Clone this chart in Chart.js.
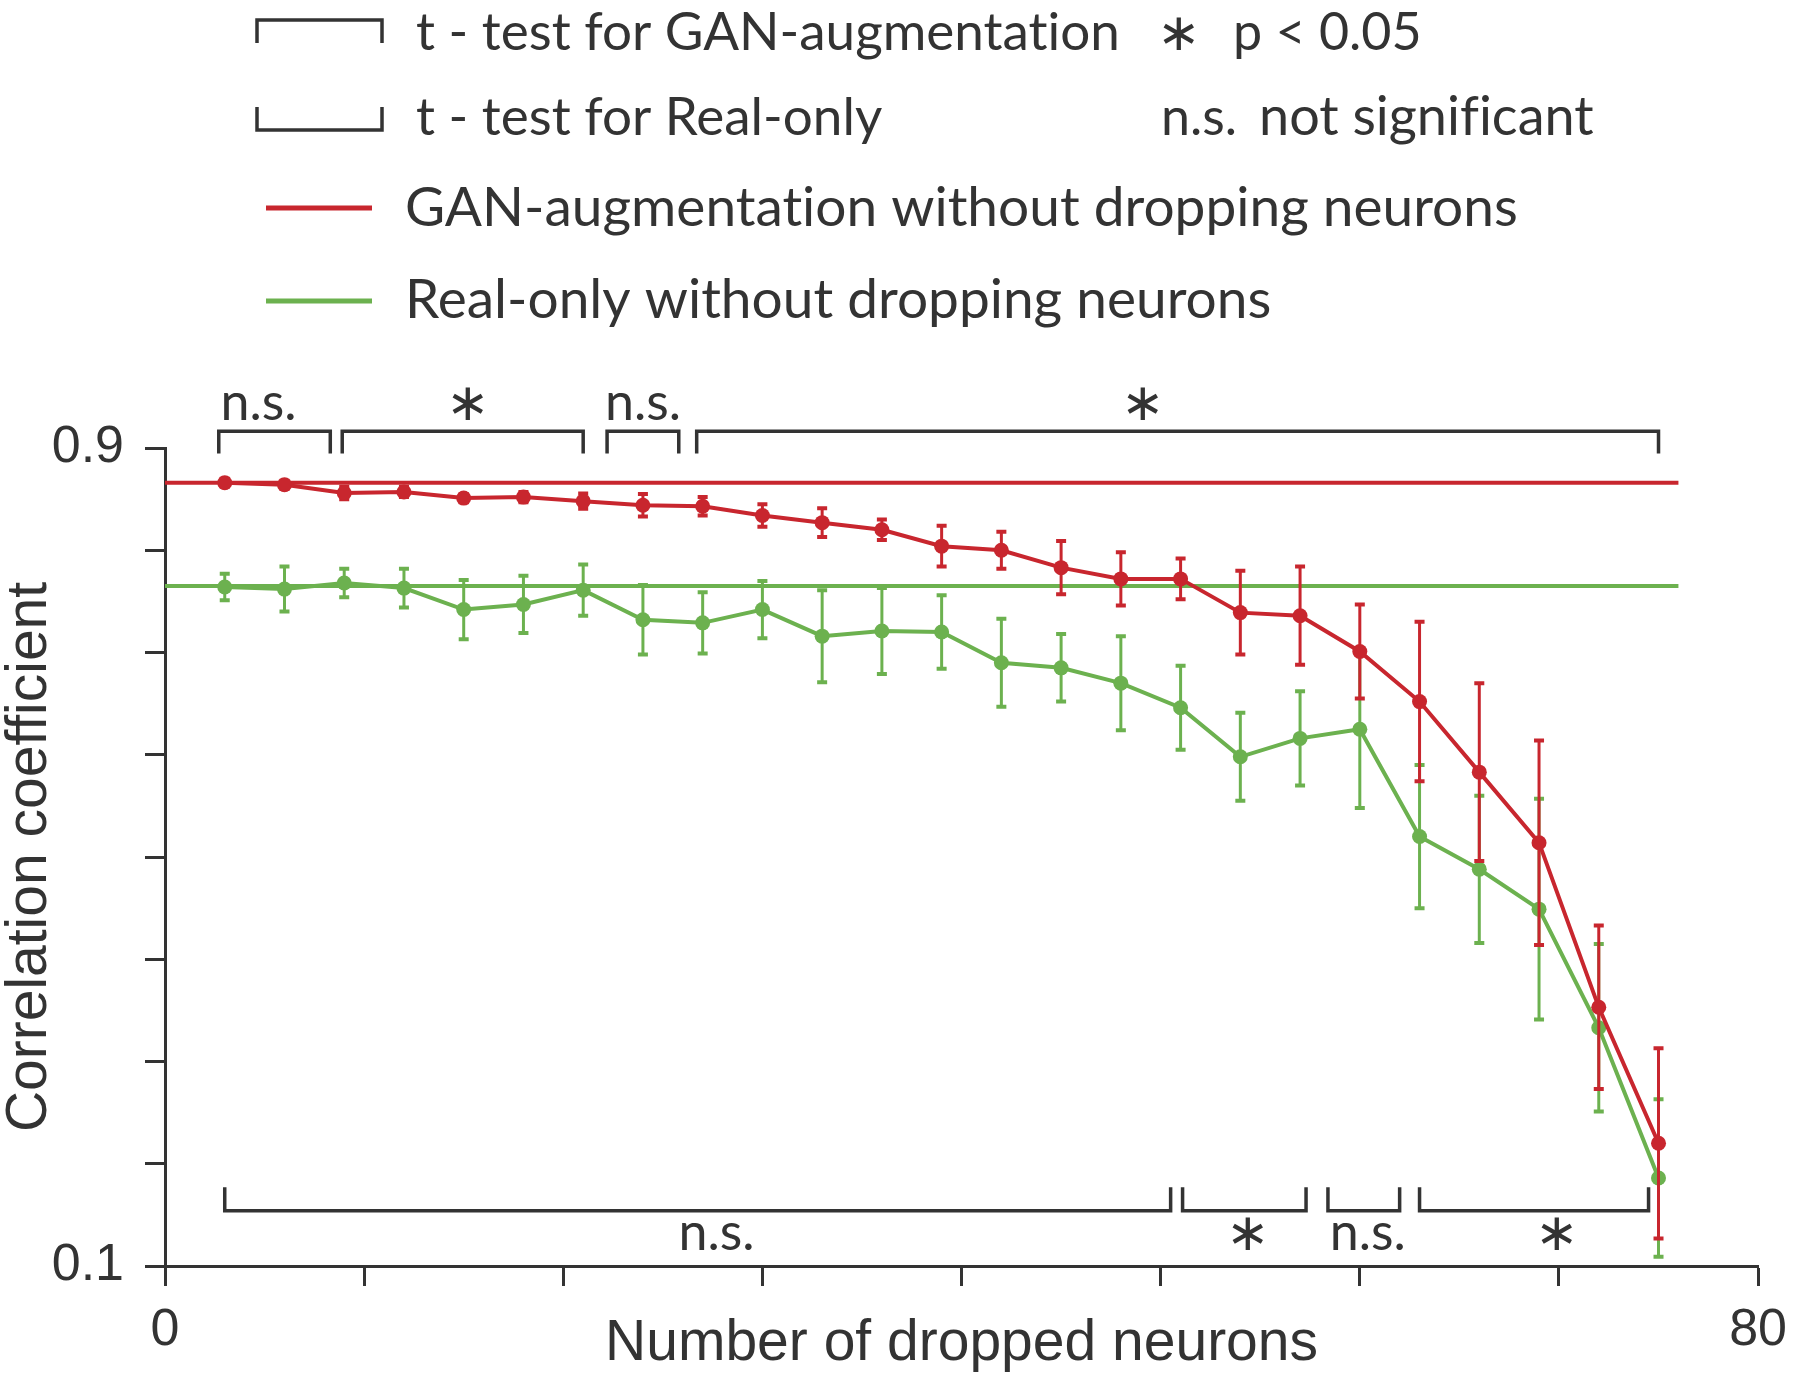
<!DOCTYPE html>
<html>
<head>
<meta charset="utf-8">
<script src="https://cdn.jsdelivr.net/npm/chart.js@4.4.0/dist/chart.umd.min.js"></script>
<style>
  html, body { margin: 0; padding: 0; background: #fff; }
  canvas { display: block; }
</style>
</head>
<body>
<canvas id="chart" width="1800" height="1378"></canvas>
<script>
// --- values ---
const dropped = [3, 6, 9, 12, 15, 18, 21, 24, 27, 30, 33, 36, 39, 42, 45, 48, 51, 54, 57, 60, 63, 66, 69, 72, 75];
const ganMean = [0.866, 0.864, 0.856, 0.857, 0.851, 0.852, 0.848, 0.844, 0.843, 0.834, 0.827, 0.820, 0.804,
                 0.800, 0.783, 0.772, 0.772, 0.739, 0.736, 0.701, 0.652, 0.583, 0.514, 0.353, 0.220];
const ganErr = [0.004, 0.004, 0.006, 0.005, 0.004, 0.005, 0.0075, 0.011, 0.009, 0.011, 0.014, 0.010, 0.020,
                0.018, 0.026, 0.026, 0.020, 0.041, 0.048, 0.046, 0.078, 0.087, 0.100, 0.080, 0.093];
const realMean = [0.764, 0.762, 0.768, 0.763, 0.742, 0.747, 0.761, 0.732, 0.729, 0.742, 0.716, 0.721, 0.720,
                  0.690, 0.685, 0.670, 0.646, 0.598, 0.616, 0.625, 0.520, 0.488, 0.449, 0.333, 0.186];
const realErr = [0.013, 0.022, 0.014, 0.019, 0.029, 0.028, 0.025, 0.034, 0.030, 0.028, 0.045, 0.042, 0.036,
                 0.043, 0.033, 0.046, 0.041, 0.043, 0.046, 0.077, 0.070, 0.072, 0.108, 0.082, 0.077];

// "without dropping neurons" reference levels
const ganBaseline = 0.866;
const realBaseline = 0.765;
const baselineRange = [0, 76];

// t-test brackets (in neurons) and their marks
const ganTestStart = [2.7, 8.9, 22.2, 26.7];
const ganTestEnd = [8.3, 21.0, 25.8, 75.0];
const ganTestMark = ['n.s.', '∗', 'n.s.', '∗'];
const ganTestMarkX = [4.7, 15.2, 24.0, 49.1];
const realTestStart = [3.0, 51.1, 58.4, 63.0];
const realTestEnd = [50.5, 57.3, 62.0, 74.5];
const realTestMark = ['n.s.', '∗', 'n.s.', '∗'];
const realTestMarkX = [27.7, 54.4, 60.4, 69.9];

const xLabelled = [0, 80];
const yLabelled = [0.1, 0.9];

const red = '#c8262e';
const green = '#6cb14f';
const ink = '#333333';
const textFont = 'Lato, "Open Sans", sans-serif';
const axisFont = '"Liberation Sans", Arial, sans-serif';
const noLig = '\u200C'; // keeps Lato from joining "ti"

// --- error bars, drawn under each series ---
const errorBars = {
  id: 'errorBars',
  beforeDatasetDraw(chart, args) {
    const ds = chart.data.datasets[args.index];
    if (!ds.errors) return;
    const { ctx, scales: { x, y } } = chart;
    ctx.save();
    ctx.strokeStyle = ds.borderColor;
    ds.data.forEach((p, i) => {
      const px = x.getPixelForValue(p.x);
      const top = y.getPixelForValue(p.y + ds.errors[i]);
      const bot = y.getPixelForValue(p.y - ds.errors[i]);
      ctx.lineWidth = 3;
      ctx.beginPath();
      ctx.moveTo(px, top);
      ctx.lineTo(px, bot);
      ctx.stroke();
      ctx.lineWidth = 4;
      ctx.beginPath();
      ctx.moveTo(px - 5, top); ctx.lineTo(px + 5, top);
      ctx.moveTo(px - 5, bot); ctx.lineTo(px + 5, bot);
      ctx.stroke();
    });
    ctx.restore();
  }
};

function bracket(ctx, x0, x1, yLine, yEnd) {
  ctx.beginPath();
  ctx.moveTo(x0, yEnd);
  ctx.lineTo(x0, yLine);
  ctx.lineTo(x1, yLine);
  ctx.lineTo(x1, yEnd);
  ctx.stroke();
}

// --- brackets, legend and axis titles ---
const annotations = {
  id: 'annotations',
  afterDraw(chart) {
    const { ctx, chartArea, scales: { x, y } } = chart;
    ctx.save();
    ctx.strokeStyle = ink;
    ctx.fillStyle = ink;
    ctx.lineWidth = 3.5;

    // t-test brackets above (GAN) and below (Real-only)
    ctx.font = '52px ' + textFont;
    ctx.textAlign = 'center';
    ctx.textBaseline = 'alphabetic';
    ganTestStart.forEach((s, i) => {
      bracket(ctx, x.getPixelForValue(s), x.getPixelForValue(ganTestEnd[i]),
              y.getPixelForValue(0.9165), y.getPixelForValue(0.8945));
      ctx.fillText(ganTestMark[i], x.getPixelForValue(ganTestMarkX[i]), y.getPixelForValue(0.9274));
    });
    realTestStart.forEach((s, i) => {
      bracket(ctx, x.getPixelForValue(s), x.getPixelForValue(realTestEnd[i]),
              y.getPixelForValue(0.154), y.getPixelForValue(0.177));
      ctx.fillText(realTestMark[i], x.getPixelForValue(realTestMarkX[i]), y.getPixelForValue(0.1156));
    });

    // legend
    bracket(ctx, 257, 382, 20, 43);
    bracket(ctx, 257, 382, 130, 107);
    ctx.lineWidth = 5;
    ctx.strokeStyle = red;
    ctx.beginPath(); ctx.moveTo(266, 208); ctx.lineTo(372, 208); ctx.stroke();
    ctx.strokeStyle = green;
    ctx.beginPath(); ctx.moveTo(266, 301); ctx.lineTo(372, 301); ctx.stroke();

    ctx.textAlign = 'left';
    ctx.font = '53px ' + textFont;
    ctx.fillText('t - test for GAN-augmentat' + noLig + 'ion', 416, 50);
    ctx.fillText('t - test for Real-only', 416, 135);
    ctx.font = '55px ' + textFont;
    ctx.fillText('GAN-augmentat' + noLig + 'ion without dropping neurons', 405, 226);
    ctx.fillText('Real-only without dropping neurons', 405, 318);
    ctx.font = '52px ' + textFont;
    ctx.textAlign = 'center';
    ctx.fillText('∗', 1179, 50);
    ctx.textAlign = 'left';
    ctx.fillText('p < 0.05', 1233, 50);
    ctx.fillText('n.s.', 1161, 135);
    ctx.font = '54px ' + textFont;
    ctx.fillText('not signif' + noLig + 'icant', 1259, 135);

    // axis titles
    ctx.font = '57px ' + axisFont;
    ctx.textAlign = 'center';
    ctx.fillText('Number of dropped neurons', (chartArea.left + chartArea.right) / 2, chartArea.bottom + 94);
    ctx.translate(46, (chartArea.top + chartArea.bottom) / 2);
    ctx.rotate(-Math.PI / 2);
    ctx.fillText('Correlation coefficient', 0, 0);
    ctx.restore();
  }
};

const toPoints = (xs, ys) => xs.map((v, i) => ({ x: v, y: ys[i] }));

new Chart(document.getElementById('chart'), {
  type: 'scatter',
  data: {
    datasets: [
      {
        label: 'GAN-augmentation',
        data: toPoints(dropped, ganMean),
        errors: ganErr,
        showLine: true,
        borderColor: red,
        backgroundColor: red,
        borderWidth: 4,
        pointRadius: 7.5,
        pointHoverRadius: 7.5,
        pointBorderWidth: 0,
        clip: false
      },
      {
        label: 'Real-only',
        data: toPoints(dropped, realMean),
        errors: realErr,
        showLine: true,
        borderColor: green,
        backgroundColor: green,
        borderWidth: 4,
        pointRadius: 7.5,
        pointHoverRadius: 7.5,
        pointBorderWidth: 0,
        clip: false
      },
      {
        label: 'GAN-augmentation without dropping neurons',
        data: baselineRange.map(v => ({ x: v, y: ganBaseline })),
        showLine: true,
        borderColor: red,
        borderWidth: 4,
        pointRadius: 0
      },
      {
        label: 'Real-only without dropping neurons',
        data: baselineRange.map(v => ({ x: v, y: realBaseline })),
        showLine: true,
        borderColor: green,
        borderWidth: 4,
        pointRadius: 0
      }
    ]
  },
  options: {
    responsive: false,
    animation: false,
    devicePixelRatio: 1,
    layout: { padding: { top: 448, right: 39, left: 0, bottom: 0 } },
    plugins: { legend: { display: false }, tooltip: { enabled: false } },
    scales: {
      x: {
        type: 'linear',
        min: 0,
        max: 80,
        afterFit(s) { s.height = 112; },
        ticks: {
          stepSize: 10,
          autoSkip: false,
          maxRotation: 0,
          padding: 13,
          color: ink,
          font: { family: axisFont, size: 52 },
          callback: v => xLabelled.includes(v) ? String(v) : ''
        },
        grid: { drawOnChartArea: false, tickLength: 20, tickWidth: 3, tickColor: ink },
        border: { width: 3, color: ink }
      },
      y: {
        min: 0.1,
        max: 0.9,
        afterFit(s) { s.width = 165; },
        ticks: {
          stepSize: 0.1,
          autoSkip: false,
          padding: 21,
          color: ink,
          font: { family: axisFont, size: 52 },
          callback: v => yLabelled.some(t => Math.abs(t - v) < 1e-6) ? v.toFixed(1) : ''
        },
        grid: { drawOnChartArea: false, tickLength: 20, tickWidth: 3, tickColor: ink },
        border: { width: 3, color: ink }
      }
    }
  },
  plugins: [errorBars, annotations]
});
</script>
</body>
</html>
